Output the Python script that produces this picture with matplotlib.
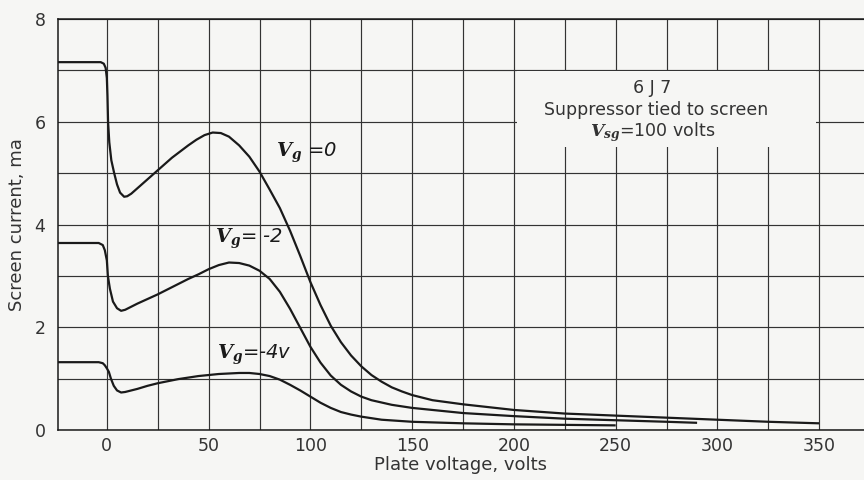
import matplotlib
matplotlib.use("Agg")
import matplotlib.pyplot as plt
from matplotlib.patches import Rectangle
from matplotlib.ticker import MultipleLocator

# ---------------------------------
# Data
# ---------------------------------
v_0 = [-24, -3, -1.5, -0.6, 0, 0.3, 0.6, 1.2, 2.2, 3.6, 5, 6.5, 8.5, 10, 12, 16, 20, 24, 28, 32,
       36, 40, 44, 48, 52, 56, 60, 65, 70, 75, 80, 85, 90, 95, 100, 105, 110, 115, 120, 125,
       130, 135, 140, 145, 150, 160, 175, 200, 225, 250, 275, 300, 325, 350]
i_0 = [7.16, 7.16, 7.13, 7.05, 6.85, 6.5, 6.0, 5.6, 5.25, 5.0, 4.78, 4.62, 4.54, 4.55, 4.6, 4.74,
       4.88, 5.02, 5.16, 5.3, 5.42, 5.54, 5.65, 5.74, 5.79, 5.78, 5.71, 5.54, 5.32, 5.03, 4.68,
       4.32, 3.88, 3.39, 2.88, 2.43, 2.03, 1.71, 1.45, 1.24, 1.07, 0.94, 0.83, 0.75, 0.68, 0.58,
       0.5, 0.39, 0.32, 0.28, 0.24, 0.2, 0.16, 0.13]

v_2 = [-24, -4, -2, -1, 0, 0.5, 1.5, 3, 5, 7, 9, 15, 20, 25, 30, 35, 40, 45, 50, 55, 60, 65,
       70, 75, 80, 85, 90, 95, 100, 105, 110, 115, 120, 125, 130, 140, 150, 175, 200, 225, 250,
       275, 290]
i_2 = [3.64, 3.64, 3.6, 3.5, 3.3, 3.0, 2.75, 2.5, 2.37, 2.32, 2.34, 2.46, 2.55, 2.64, 2.74,
       2.84, 2.94, 3.03, 3.13, 3.21, 3.26, 3.25, 3.2, 3.1, 2.94, 2.69, 2.36, 1.99, 1.62, 1.31,
       1.06, 0.88, 0.75, 0.65, 0.58, 0.49, 0.43, 0.33, 0.27, 0.22, 0.19, 0.16, 0.14]

v_4 = [-24, -4, -2, -1, 0, 1, 2, 3.4, 5, 7, 9, 15, 20, 25, 30, 35, 40, 45, 50, 55, 60, 65, 70,
       75, 80, 85, 90, 95, 100, 105, 110, 115, 120, 125, 135, 150, 175, 200, 225, 250]
i_4 = [1.32, 1.32, 1.3, 1.26, 1.2, 1.13, 1.0, 0.86, 0.77, 0.73, 0.74, 0.8, 0.86, 0.91, 0.95,
       0.99, 1.02, 1.05, 1.07, 1.09, 1.1, 1.11, 1.11, 1.09, 1.05, 0.98, 0.88, 0.77, 0.65, 0.53,
       0.43, 0.35, 0.3, 0.26, 0.2, 0.16, 0.13, 0.11, 0.1, 0.09]

x_ticks = [0, 50, 100, 150, 200, 250, 300, 350]
y_ticks = [0, 2, 4, 6, 8]

# ---------------------------------
# Style
# ---------------------------------
plt.rcParams['font.family'] = ['DejaVu Sans']
plt.rcParams['mathtext.fontset'] = 'custom'
plt.rcParams['mathtext.it'] = 'DejaVu Serif:italic:bold'
plt.rcParams['mathtext.rm'] = 'DejaVu Serif:bold'
bg = '#f6f6f4'
ink = '#1a1a1a'

fig = plt.figure(figsize=(8.64, 4.8), dpi=100, facecolor=bg)
ax = fig.add_axes([58 / 864, 50 / 480, 1 - 58 / 864, 411 / 480], facecolor=bg)

for v, i in [(v_0, i_0), (v_2, i_2), (v_4, i_4)]:
    ax.plot(v, i, color=ink, lw=1.6, zorder=3, solid_capstyle='butt')

ax.set_xlim(-24, 372)
ax.set_ylim(0, 8)
ax.set_xticks(x_ticks)
ax.set_yticks(y_ticks)
ax.xaxis.set_minor_locator(MultipleLocator(25))
ax.yaxis.set_minor_locator(MultipleLocator(1))
ax.set_axisbelow(True)
ax.grid(True, which='both', color='#333333', lw=0.85)
ax.tick_params(which='both', length=0, labelsize=12.5, colors='#333333')
ax.tick_params(axis='y', pad=9)
ax.tick_params(axis='x', pad=5)
for s in ['left', 'bottom', 'top']:
    ax.spines[s].set_color(ink)
    ax.spines[s].set_linewidth(1.1)
ax.spines['right'].set_visible(False)

ax.set_xlabel("Plate voltage, volts", fontsize=13, color='#333333', labelpad=1)
ax.set_ylabel("Screen current, ma", fontsize=13, color='#333333', labelpad=6)

# blank patch behind the tube note
ax.add_patch(Rectangle((201.5, 5.5), 147, 1.48, facecolor=bg, edgecolor='none', zorder=1))
ax.text(268, 6.65, "6 J 7", ha='center', va='center', fontsize=12.5, color='#333333', zorder=4)
ax.text(270, 6.23, "Suppressor tied to screen", ha='center', va='center', fontsize=12.5,
        color='#333333', zorder=4)
ax.text(268, 5.8, r"$V_{sg}$" + "=100 volts", ha='center', va='center', fontsize=12.5,
        color='#333333', zorder=4)

# curve labels
ax.text(83, 5.4, r"$V_g$" + " =0", fontsize=14, fontstyle='italic', va='center', color=ink)
ax.text(53, 3.72, r"$V_g$" + "= -2", fontsize=14, fontstyle='italic', va='center', color=ink)
ax.text(54, 1.47, r"$V_g$" + "=-4v", fontsize=14, fontstyle='italic', va='center', color=ink)

fig.savefig("out.png", dpi=100, facecolor=bg)
